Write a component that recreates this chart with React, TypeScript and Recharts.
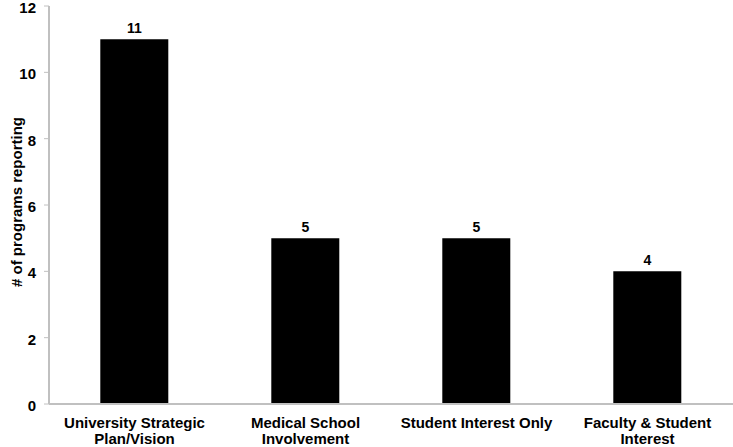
import { BarChart, Bar, XAxis, YAxis, LabelList } from 'recharts';

const categories = ['University Strategic Plan/Vision', 'Medical School Involvement', 'Student Interest Only', 'Faculty & Student Interest'];
const tickLines = [
  ['University Strategic', 'Plan/Vision'],
  ['Medical School', 'Involvement'],
  ['Student Interest Only'],
  ['Faculty & Student', 'Interest'],
];
const counts = [11, 5, 5, 4];
const yTicks = [0, 2, 4, 6, 8, 10, 12];

const data = categories.map((name, i) => ({ name, count: counts[i], idx: i }));

const FONT = '"Liberation Sans", Arial, sans-serif';

function CatTick(props: any) {
  const { x, index } = props;
  const lines = tickLines[index] ?? [];
  return (
    <text x={x} y={428} textAnchor="middle" fontFamily={FONT} fontWeight="bold" fontSize={15} fill="#000">
      {lines.map((l, i) => (
        <tspan key={i} x={x} dy={i === 0 ? 0 : 16}>{l}</tspan>
      ))}
    </text>
  );
}

function ValTick(props: any) {
  const { x, y, payload } = props;
  return (
    <text x={x} y={y + 7} textAnchor="end" fontFamily={FONT} fontWeight="bold" fontSize={15} fill="#000">
      {payload.value}
    </text>
  );
}

export default function App() {
  return (
    <div style={{ position: 'absolute', left: 0, top: 0, width: 733, height: 447, background: '#fff' }}>
      <BarChart width={733} height={447} data={data} margin={{ top: 6, right: 0, left: 0, bottom: 0 }} barCategoryGap="30%">
        <XAxis
          dataKey="name"
          height={43}
          interval={0}
          tickLine={false}
          axisLine={{ stroke: '#c0c0c0', strokeWidth: 2 }}
          tick={<CatTick />}
        />
        <YAxis
          width={49}
          domain={[0, 12]}
          ticks={yTicks}
          interval={0}
          tickSize={5}
          tickMargin={8}
          axisLine={{ stroke: '#c0c0c0', strokeWidth: 2 }}
          tickLine={{ stroke: '#c0c0c0' }}
          tick={<ValTick />}
          label={{
            value: '# of programs reporting',
            angle: -90,
            position: 'insideLeft',
            dx: 12,
            dy: 82,
            style: { fontFamily: FONT, fontWeight: 'bold', fontSize: 15, fill: '#000' },
          }}
        />
        <Bar dataKey="count" fill="#000" isAnimationActive={false}>
          <LabelList dataKey="count" position="top" offset={6} style={{ fontFamily: FONT, fontWeight: 'bold', fontSize: 14, fill: '#000' }} />
        </Bar>
      </BarChart>
    </div>
  );
}
